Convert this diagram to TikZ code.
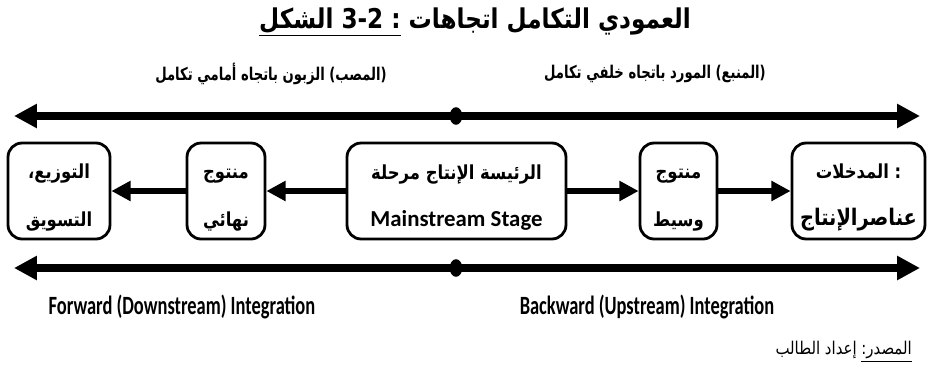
\documentclass[tikz,border=0pt]{standalone}
\usepackage{fontspec}
\setmainfont{Carlito}
\newfontfamily\arabicfont[Script=Arabic,FakeStretch=0.85]{DejaVu Sans}
\newfontfamily\arabicnarrow[Script=Arabic,FakeStretch=0.75]{DejaVu Sans}
\newfontfamily\narrowfont[FakeStretch=0.7]{Carlito}
\usetikzlibrary{arrows.meta}
\TeXXeTstate=1

\begin{document}
\begin{tikzpicture}[x=0.02cm,y=-0.02cm]
		\tikzstyle{stage}=[rectangle,rounded corners=8pt,line width=1.6pt,draw=black,inner sep=0pt,minimum height=1.92cm,align=center,font=\arabicfont\bfseries\fontsize{11}{13}\selectfont]
		\tikzstyle{heading}=[font=\arabicnarrow\bfseries\fontsize{10}{12}\selectfont]
		\tikzstyle{english}=[font=\narrowfont\bfseries\fontsize{15}{17}\selectfont]
		\tikzstyle{edge}=[draw, line width=3.4pt, -{Triangle[length=11pt,width=11pt]}]
		\tikzstyle{axis}=[draw, line width=4pt, {Triangle[length=13pt,width=13pt]}-{Triangle[length=13pt,width=13pt]}]
		\useasboundingbox (0,0) rectangle (941,376);
		\begin{scope}
			\node [heading,font=\arabicfont\bfseries\fontsize{15.5}{18}\selectfont] (title) at (475,22) {\beginR\mbox{العمودي} \mbox{التكامل} \mbox{اتجاهات} \underline{\mbox{الشكل} \mbox{3-2} \mbox{:}}\endR};
			\node [heading] (fwdar) at (271,74) {\beginR\mbox{(المصب)} \mbox{الزبون} \mbox{باتجاه} \mbox{أمامي} \mbox{تكامل}\endR};
			\node [heading] (bwdar) at (655,74) {\beginR\mbox{(المنبع)} \mbox{المورد} \mbox{باتجاه} \mbox{خلفي} \mbox{تكامل}\endR};
			\coordinate (tl) at (14,116);
			\coordinate (tr) at (920,116);
			\coordinate (tm) at (456,116);
			\path[axis] (tl) -- (tr);
			\fill (tm) ellipse [x radius=3.6pt, y radius=5pt];
			\node [stage,minimum width=2.04cm] (dist) at (59,191) {\rule{0pt}{16pt}التوزيع،\\[14pt]التسويق};
			\node [stage,minimum width=1.56cm] (final) at (226,191) {\rule{0pt}{16pt}منتوج\\[14pt]نهائي};
			\node [stage,minimum width=4.38cm] (main) at (456.5,191) {\rule{0pt}{16pt}\beginR\mbox{الرئيسة} \mbox{الإنتاج} \mbox{مرحلة}\endR\\[14pt]{\rmfamily\fontsize{13}{13}\selectfont Mainstream Stage}};
			\node [stage,minimum width=1.54cm] (inter) at (678.5,191) {\rule{0pt}{16pt}منتوج\\[14pt]وسيط};
			\node [stage,minimum width=2.66cm] (inputs) at (858.5,191) {\rule{0pt}{16pt}\beginR\mbox{:} \mbox{المدخلات}\endR\\[14pt]{\fontsize{13}{13}\selectfont عناصرالإنتاج}};
			\path[edge] (main) edge (final);
			\path[edge] (final) edge (dist);
			\path[edge] (main) edge (inter);
			\path[edge] (inter) edge (inputs);
			\coordinate (bl) at (14,268);
			\coordinate (br) at (920,268);
			\coordinate (bm) at (456,268);
			\path[axis] (bl) -- (br);
			\fill (bm) ellipse [x radius=3.6pt, y radius=5pt];
			\node [english] (fwd) at (182,307) {Forward (Downstream) Integration};
			\node [english] (bwd) at (647,307) {Backward (Upstream) Integration};
			\node [anchor=east,font=\arabicfont\fontsize{10}{12}\selectfont] (src) at (918,352) {\beginR\underline{\mbox{المصدر:}} \mbox{إعداد} \mbox{الطالب}\endR};
		\end{scope}
\end{tikzpicture}
\end{document}
